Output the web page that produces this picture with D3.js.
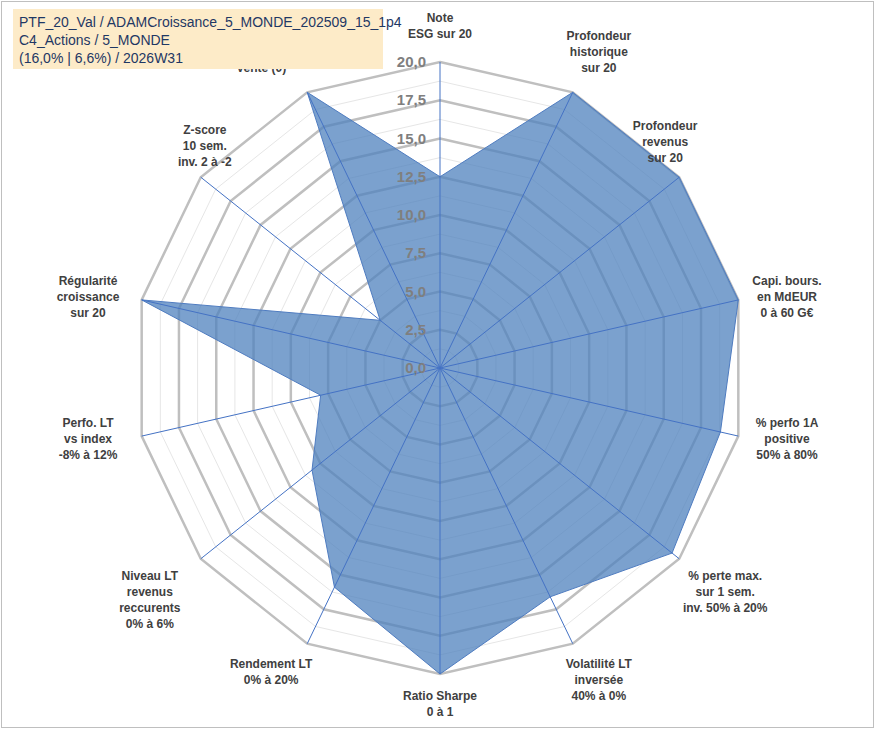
<!DOCTYPE html>
<html><head><meta charset="utf-8">
<script src="https://cdn.jsdelivr.net/npm/d3@7"></script>
<style>body{margin:0;background:#fff}</style></head>
<body><svg id="c" width="875" height="729"></svg>
<script>
const labels = [
 ["Note","ESG sur 20"],
 ["Profondeur","historique","sur 20"],
 ["Profondeur","revenus","sur 20"],
 ["Capi. bours.","en MdEUR","0 à 60 G€"],
 ["% perfo 1A","positive","50% à 80%"],
 ["% perte max.","sur 1 sem.","inv. 50% à 20%"],
 ["Volatilité LT","inversée","40% à 0%"],
 ["Ratio Sharpe","0 à 1"],
 ["Rendement LT","0% à 20%"],
 ["Niveau LT","revenus","reccurents","0% à 6%"],
 ["Perfo. LT","vs index","-8% à 12%"],
 ["Régularité","croissance","sur 20"],
 ["Z-score","10 sem.","inv. 2 à -2"],
 ["Momentum","Achat (20) /","Vente (0)"]
];
const values = [12.5,20,20,20,18.8,19.4,16.6,20,15.9,10.7,8.0,20,5.0,20];
const ticks = [0,2.5,5,7.5,10,12.5,15,17.5,20];
const titleLines = ["PTF_20_Val / ADAMCroissance_5_MONDE_202509_15_1p4","C4_Actions / 5_MONDE","(16,0% | 6,6%) / 2026W31"];

const svg = d3.select("#c");
svg.append("rect").attr("x",1.5).attr("y",1.5).attr("width",872).attr("height",726).attr("fill","#fff").attr("stroke","#bfbfbf");
const cx=440, cy=368, R=306, n=labels.length;
const r = d3.scaleLinear().domain([0,20]).range([0,R]);
const ang = i => i*2*Math.PI/n;
const pt = (i,v)=>[cx+r(v)*Math.sin(ang(i)), cy-r(v)*Math.cos(ang(i))];
const g = svg.append("g");
// minor grid
d3.range(1.25,20,2.5).forEach(v=>{
  g.append("polygon").attr("points",d3.range(n).map(i=>pt(i,v).join(",")).join(" "))
   .attr("fill","none").attr("stroke","#e6e6e6").attr("stroke-width",1);
});
ticks.slice(1).forEach(v=>{
  g.append("polygon").attr("points",d3.range(n).map(i=>pt(i,v).join(",")).join(" "))
   .attr("fill","none").attr("stroke","#bfbfbf").attr("stroke-width",2.5);
});
// data
g.append("polygon").attr("points",values.map((v,i)=>pt(i,v).join(",")).join(" "))
 .attr("fill","rgba(79,129,189,0.75)").attr("stroke","#4f7cc0").attr("stroke-width",1);
// axes
d3.range(n).forEach(i=>{
  const p=pt(i,20);
  g.append("line").attr("x1",cx).attr("y1",cy).attr("x2",p[0]).attr("y2",p[1]).attr("stroke","#4472c4").attr("stroke-width",1);
});
// tick labels
ticks.forEach(v=>{
  g.append("text").attr("x",cx-14).attr("y",cy-r(v)+5).attr("text-anchor","end")
   .attr("font-family","Liberation Sans, Arial").attr("font-weight","bold").attr("font-size",15)
   .attr("fill","#7f7f7f").text(d3.format(".1f")(v).replace(".",","));
});
// axis labels
labels.forEach((lines,i)=>{
  const a=ang(i), s=Math.sin(a), c=-Math.cos(a);
  const rr=R+ (i===0?18:14);
  let x=cx+rr*s, y=cy+rr*c;
  let anchor = Math.abs(s)<0.3?"middle":(s>0?"start":"end");
  if(i===0||i===7) anchor="middle";
  const lh=16, h=lines.length*lh;
  let y0;
  if(c<-0.3) y0=y-h+10; else if(c>0.3) y0=y+12; else y0=y-h/2+12;
  if(i===1||i===13){ y0=y-h+8; }
  if(i===2){ x-=25; anchor="middle"; }
  if(i===12){ x+=15; anchor="middle"; y0=y-h+14;}
  if(i===3||i===4||i===5){x+=10; anchor="middle"; x+=25;}
  if(i===6){x+=20;anchor="middle";}
  if(i===8){x-=10;anchor="middle";x-=20;}
  if(i===9||i===10||i===11){anchor="middle";x-=40;}
  if(i===1){x-=10;anchor="middle";x+=30;}
  if(i===13){anchor="middle";x-=40;}
  const t=g.append("text").attr("font-family","Liberation Sans, Arial").attr("font-weight","bold")
   .attr("font-size",12).attr("fill","#404040").attr("text-anchor",anchor);
  lines.forEach((l,k)=>t.append("tspan").attr("x",x).attr("y",y0+k*lh).text(l)
     .attr("fill",(i===13&&k===0)?"#b5a685":"#404040"));
});
// title box
svg.append("rect").attr("x",13).attr("y",9).attr("width",370).attr("height",60).attr("fill","#fdebc8");
titleLines.forEach((l,k)=>svg.append("text").attr("x",19).attr("y",27+k*18)
  .attr("font-family","Liberation Sans, Arial").attr("font-size",14).attr("fill","#1f3864").text(l));
</script></body></html>
